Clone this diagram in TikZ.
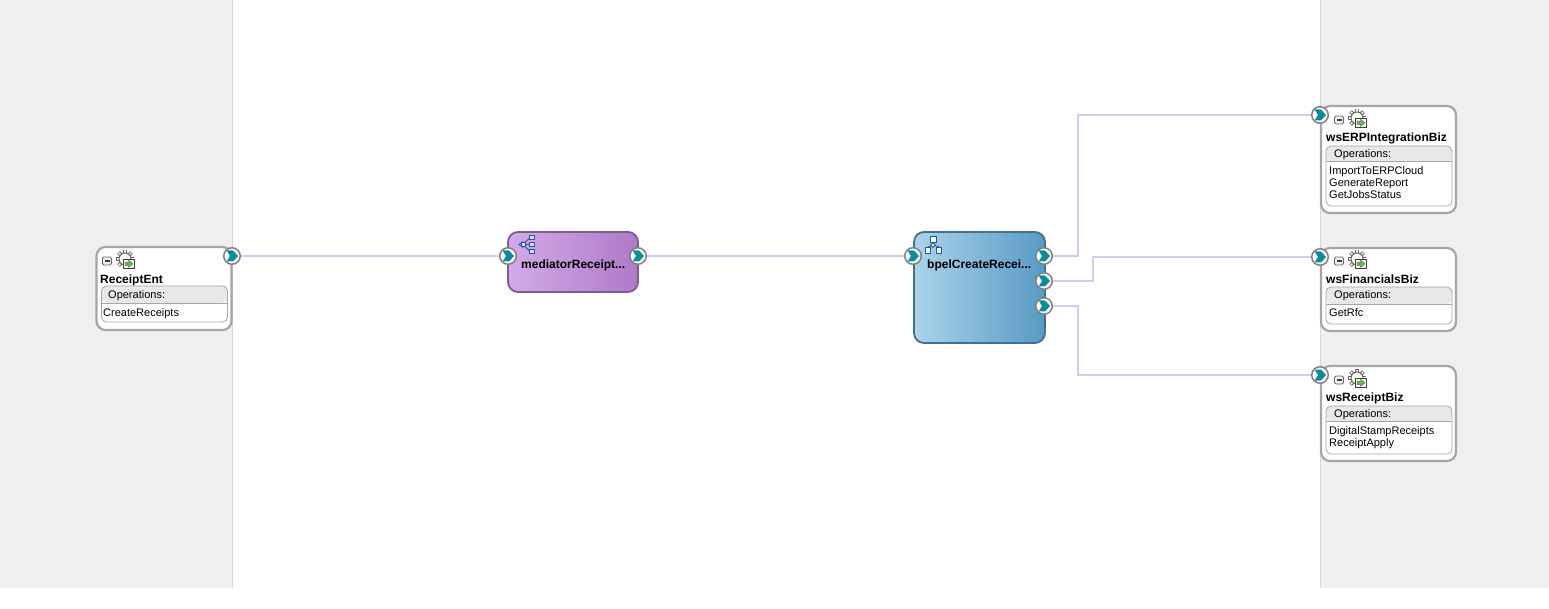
\documentclass[tikz,border=0pt]{standalone}
\usepackage{fontspec}
\setmainfont{Liberation Sans}
\usepackage{tikz}
\usepackage{xcolor}
\usetikzlibrary{positioning, arrows.meta}

\definecolor{panelgray}{HTML}{EFEFEF}
\definecolor{panelline}{HTML}{D6D6D6}
\definecolor{wirecolor}{HTML}{CFCCF2}
\definecolor{boxline}{HTML}{A6A6A6}
\definecolor{tealport}{HTML}{0C8C9A}
\definecolor{iconblue}{HTML}{24569E}
\definecolor{icongreen}{HTML}{5FC24A}
\definecolor{mediatorline}{HTML}{7E5A96}
\definecolor{mediatorleft}{HTML}{D2AAE8}
\definecolor{mediatorright}{HTML}{AF7AC8}
\definecolor{bpelline}{HTML}{44708F}
\definecolor{bpelleft}{HTML}{AAD4EA}
\definecolor{bpelright}{HTML}{589AC4}

\begin{document}
\begin{tikzpicture}[
    x=1pt, y=-1pt,
    panel/.style={fill=panelgray, draw=none},
    panelrule/.style={draw=panelline, line width=1pt},
    svcbox/.style={rectangle, draw=boxline, line width=2.2pt, fill=white, rounded corners=9pt, minimum width=135pt, inner sep=0pt},
    opsbox/.style={rectangle, draw=boxline, line width=0.8pt, fill=white, rounded corners=5pt, minimum width=126pt, inner sep=0pt,
        path picture={
            \fill[black!9] (path picture bounding box.north west) rectangle ([yshift=-#1pt]path picture bounding box.north east);
            \draw[boxline, line width=0.8pt] ([yshift=-#1pt]path picture bounding box.north west) -- ([yshift=-#1pt]path picture bounding box.north east);
        }},
    mediator/.style={rectangle, draw=mediatorline, line width=1.8pt, rounded corners=10pt, left color=mediatorleft, right color=mediatorright, minimum width=130pt, minimum height=60pt, inner sep=0pt},
    bpel/.style={rectangle, draw=bpelline, line width=1.8pt, rounded corners=10pt, left color=bpelleft, right color=bpelright, minimum width=131pt, minimum height=111pt, inner sep=0pt},
    title/.style={anchor=west, inner sep=0pt, font=\fontsize{12}{13}\selectfont\bfseries},
    opshead/.style={anchor=west, inner sep=0pt, font=\fontsize{11}{12}\selectfont},
    oplist/.style={anchor=north west, inner sep=0pt, align=left, font=\fontsize{11}{12}\selectfont},
    port/.style={circle, draw=black!50, line width=1.5pt, fill=white, minimum size=16.5pt, inner sep=0pt,
        path picture={
            \fill[tealport] ([shift={(-5.5pt,-5.5pt)}]path picture bounding box.center) -- ++(6.5pt,0pt) -- ++(5pt,5.5pt) -- ++(-5pt,5.5pt) -- ++(-6.5pt,0pt) -- ++(3.5pt,-5.5pt) -- cycle;
        }},
    wire/.style={draw=wirecolor, line width=2pt},
    svcicons/.pic={
        \draw[black!60, fill=black!6, rounded corners=1.5pt, line width=0.8pt] (-4.5,-4) rectangle (4.5,4);
        \draw[black!75, line width=1.1pt] (-2.5,0) -- (2.5,0);
        \foreach \a in {0,45,...,315} {
            \draw[black!60, line width=3.6pt] (18,-2) ++(\a:5.5) -- ++(\a:3.6);
            \draw[white, line width=1.6pt] (18,-2) ++(\a:5.5) -- ++(\a:3);
        }
        \draw[black!60, fill=white, line width=1pt] (18,-2) circle (6);
        \draw[black!75, fill=white, line width=0.9pt] (16.5,-2) rectangle (27,7.5);
        \fill[icongreen, draw=black!70, line width=0.4pt] (18,1.2) -- (21.5,1.2) -- (21.5,-0.8) -- (25.8,2.8) -- (21.5,6.4) -- (21.5,4.4) -- (18,4.4) -- cycle;
    },
    mediatoricon/.pic={
        \draw[iconblue, line width=0.8pt] (-10,0) -- (-6,-3) -- (-6,3) -- cycle;
        \draw[iconblue, line width=0.8pt] (-6,0) -- (1,0) (-6,0) -- (1,-7) (-6,0) -- (1,7);
        \foreach \yy in {-7,0,7}
            \draw[iconblue, fill=blue!15, line width=0.8pt] (0.7,\yy-2.2) rectangle (5.3,\yy+2.2);
        \draw[iconblue, fill=blue!15, line width=0.8pt] (-8,-2.2) rectangle (-3.4,2.2);
    },
    bpelicon/.pic={
        \draw[iconblue, line width=0.8pt] (0,-3) -- (0,0) (-5,2) -- (0,0) -- (6,2);
        \draw[iconblue, fill=white, line width=0.8pt] (-3,-9) rectangle (3,-3);
        \draw[iconblue, fill=white, line width=0.8pt] (0,-2.2) -- (2.2,0) -- (0,2.2) -- (-2.2,0) -- cycle;
        \draw[iconblue, fill=white, line width=0.8pt] (-7.5,2) rectangle (-2.5,8);
        \draw[iconblue, fill=white, line width=0.8pt] (3.5,2) rectangle (8.5,8);
    }
]
\useasboundingbox (0,0) rectangle (1549,609);

% Paneles laterales
\path[panel] (0,0) rectangle (232,588);
\path[panel] (1320,0) rectangle (1549,588);
\draw[panelrule] (232.5,0) -- (232.5,588);
\draw[panelrule] (1320.5,0) -- (1320.5,588);

% ReceiptEnt
\node[svcbox, minimum height=83pt] (receiptent) at (164,288.5) {};
\pic at (107,261) {svcicons};
\node[title] (receipttitle) at (100,280) {ReceiptEnt};
\node[opsbox=17, minimum height=36pt] (receiptops) at (164.5,304) {};
\node[opshead] (receipthead) at (108,296) {Operations:};
\node[oplist] (receiptlist) at (103,308) {CreateReceipts};

% Mediator
\node[mediator] (mediatorbox) at (573,262) {};
\pic at (529,244.5) {mediatoricon};
\node[title] (mediatortitle) at (521,265) {mediatorReceipt...};

% BPEL
\node[bpel] (bpelbox) at (979.5,287.5) {};
\pic at (933,245) {bpelicon};
\node[title] (bpeltitle) at (927,265) {bpelCreateRecei...};

% wsERPIntegrationBiz
\node[svcbox, minimum height=107pt] (erpbox) at (1388.5,159.5) {};
\pic at (1339,120) {svcicons};
\node[title] (erptitle) at (1326,138) {wsERPIntegrationBiz};
\node[opsbox=15.5, minimum height=60pt] (erpops) at (1389,176) {};
\node[opshead] (erphead) at (1334,154.5) {Operations:};
\node[oplist] (erplist) at (1329,166) {ImportToERPCloud\\GenerateReport\\GetJobsStatus};

% wsFinancialsBiz
\node[svcbox, minimum height=83pt] (finbox) at (1388.5,289.5) {};
\pic at (1339,261) {svcicons};
\node[title] (fintitle) at (1326,279.5) {wsFinancialsBiz};
\node[opsbox=17, minimum height=37pt] (finops) at (1389,305.5) {};
\node[opshead] (finhead) at (1334,296) {Operations:};
\node[oplist] (finlist) at (1329,308) {GetRfc};

% wsReceiptBiz
\node[svcbox, minimum height=95pt] (rcptbox) at (1388.5,413.5) {};
\pic at (1339,380) {svcicons};
\node[title] (rcpttitle) at (1326,398) {wsReceiptBiz};
\node[opsbox=15.5, minimum height=48pt] (rcptops) at (1389,430) {};
\node[opshead] (rcpthead) at (1334,414.5) {Operations:};
\node[oplist] (rcptlist) at (1329,426) {DigitalStampReceipts\\ReceiptApply};

% Puertos
\node[port] (receiptout) at (232,256) {};
\node[port] (mediatorin) at (508,256) {};
\node[port] (mediatorout) at (638,256) {};
\node[port] (bpelin) at (913,256) {};
\node[port] (bpelouta) at (1044,256) {};
\node[port] (bpeloutb) at (1044,281) {};
\node[port] (bpeloutc) at (1044,306) {};
\node[port] (erpin) at (1320,115) {};
\node[port] (finin) at (1320,257) {};
\node[port] (rcptin) at (1320,375) {};

% Conexiones
\draw[wire] (receiptout.east) -- (mediatorin.west);
\draw[wire] (mediatorout.east) -- (bpelin.west);
\draw[wire] (bpelouta.east) -- ++(25,0) |- (erpin.west);
\draw[wire] (bpeloutb.east) -- ++(40,0) |- (finin.west);
\draw[wire] (bpeloutc.east) -- ++(25,0) |- (rcptin.west);

\end{tikzpicture}
\end{document}
